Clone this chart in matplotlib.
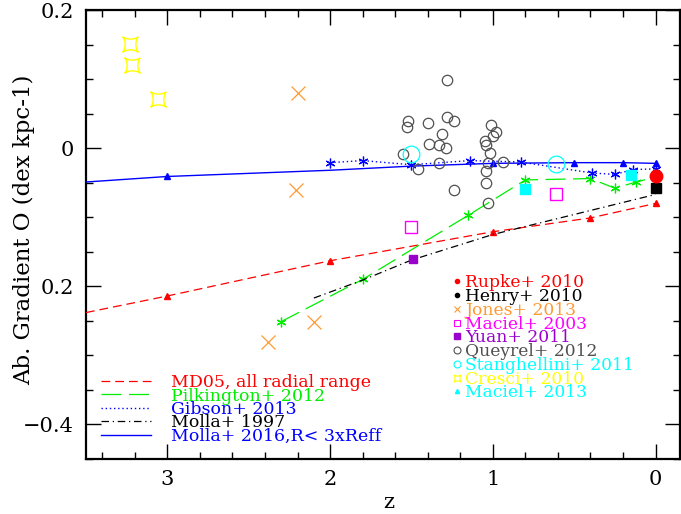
import matplotlib
matplotlib.use("Agg")
import matplotlib.pyplot as plt
from matplotlib.path import Path
from matplotlib.lines import Line2D
from matplotlib.ticker import MultipleLocator, FixedLocator, FixedFormatter
import numpy as np

plt.rcParams['font.family'] = ['DejaVu Serif']

# ---- model lines ----
z_md05 = [3.5, 3.0, 2.0, 1.0, 0.4, 0.0]
g_md05 = [-0.238, -0.214, -0.163, -0.121, -0.101, -0.080]

z_pilk = [2.3, 1.8, 1.15, 0.8, 0.4, 0.25, 0.12, 0.0]
g_pilk = [-0.251, -0.190, -0.097, -0.046, -0.044, -0.058, -0.049, -0.042]

z_gib = [2.0, 1.8, 1.5, 1.14, 0.83, 0.39, 0.25, 0.14, 0.0]
g_gib = [-0.021, -0.018, -0.024, -0.018, -0.020, -0.036, -0.038, -0.031, -0.030]

z_m97 = [2.1, 1.8, 1.5, 1.0, 0.0]
g_m97 = [-0.217, -0.191, -0.162, -0.125, -0.067]

z_m16 = [3.5, 3.0, 2.0, 1.5, 1.0, 0.5, 0.2, 0.0]
g_m16 = [-0.049, -0.041, -0.032, -0.026, -0.022, -0.021, -0.021, -0.022]

# ---- observations ----
z_rupke = [0.0]; g_rupke = [-0.040]
z_henry = [0.0]; g_henry = [-0.058]
z_jones = [2.2, 2.21, 2.1, 2.38]; g_jones = [0.080, -0.061, -0.251, -0.281]
z_mac03 = [1.5, 0.61]; g_mac03 = [-0.114, -0.067]
z_yuan = [1.49]; g_yuan = [-0.160]
z_quey = [1.28, 1.52, 1.53, 1.40, 1.28, 1.24, 1.31, 1.39, 1.33, 1.29, 1.55, 1.46, 1.33,
          1.01, 0.98, 1.00, 1.05, 1.04, 1.02, 1.03, 0.94, 1.04, 1.04, 1.24, 1.03]
g_quey = [0.098, 0.040, 0.030, 0.037, 0.045, 0.040, 0.021, 0.006, 0.004, 0.000, -0.009, -0.030, -0.022,
          0.034, 0.023, 0.018, 0.010, 0.004, -0.007, -0.021, -0.020, -0.033, -0.051, -0.061, -0.079]
z_stan = [1.5, 0.61]; g_stan = [-0.008, -0.023]
z_cresci = [3.23, 3.22, 3.06]; g_cresci = [0.151, 0.121, 0.071]
z_mac13 = [0.8, 0.15]; g_mac13 = [-0.059, -0.039]

line_labels = ["MD05, all radial range", "Pilkington+ 2012", "Gibson+ 2013",
               "Molla+ 1997", "Molla+ 2016,R< 3xReff"]
obs_labels = ["Rupke+ 2010", "Henry+ 2010", "Jones+ 2013", "Maciel+ 2003", "Yuan+ 2011",
              "Queyrel+ 2012", "Stanghellini+ 2011", "Cresci+ 2010", "Maciel+ 2013"]

RED = '#ff0000'; GREEN = '#00ee00'; BLUE = '#0000ff'; BLACK = '#000000'
ORANGE = '#ff9933'; MAG = '#ff00ff'; PURP = '#9900cc'; GRAY = '#505050'
CYAN = '#00ffff'; YEL = '#ffff00'

# concave 4-point star (points on diagonals)
t = np.linspace(0, 2 * np.pi, 81)
sx = np.sign(np.cos(t)) * np.abs(np.cos(t)) ** 3
sy = np.sign(np.sin(t)) * np.abs(np.sin(t)) ** 3
rot = np.pi / 4
vx = sx * np.cos(rot) - sy * np.sin(rot)
vy = sx * np.sin(rot) + sy * np.cos(rot)
star4 = Path(np.column_stack([vx, vy]))
aster = (6, 2, 0)

fig = plt.figure(figsize=(6.81, 5.14), dpi=100)
ax = fig.add_axes([86 / 681, 55 / 514, 594 / 681, 449 / 514])

ax.plot(z_md05, g_md05, color=RED, lw=0.9, dashes=(7, 4), marker='^', ms=4,
        markevery=[1, 2, 3, 4, 5], zorder=3)
ax.plot(z_pilk, g_pilk, color=GREEN, lw=0.9, dashes=(16, 6), marker=aster, ms=7,
        mew=0.9, markevery=list(range(7)), zorder=3)
ax.plot(z_gib, g_gib, color=BLUE, lw=1.0, dashes=(1, 2), marker=aster, ms=7, mew=0.9, zorder=3)
ax.plot(z_m97, g_m97, color=BLACK, lw=0.9, dashes=(6, 3, 1, 3), zorder=3)
ax.plot(z_m16, g_m16, color=BLUE, lw=1.0, marker='^', ms=4.5,
        markevery=[1, 4, 5, 6, 7], zorder=3)

ax.plot(z_quey, g_quey, ls='none', marker='o', ms=7.5, mfc='none', mec=GRAY, mew=0.9, zorder=4)
ax.plot(z_stan, g_stan, ls='none', marker='o', ms=12, mfc='none', mec=CYAN, mew=0.9, zorder=4)
ax.plot(z_jones, g_jones, ls='none', marker='x', ms=10.5, mec=ORANGE, mew=0.9, zorder=4)
ax.plot(z_mac03, g_mac03, ls='none', marker='s', ms=9, mfc='none', mec=MAG, mew=1.0, zorder=4)
ax.plot(z_yuan, g_yuan, ls='none', marker='s', ms=6, color=PURP, zorder=4)
ax.plot(z_cresci, g_cresci, ls='none', marker=star4, ms=11, mfc='none', mec=YEL, mew=1.0, zorder=4)
ax.plot(z_mac13, g_mac13, ls='none', marker='s', ms=6.5, color=CYAN, zorder=4)
ax.plot(z_henry, g_henry, ls='none', marker='s', ms=6.5, color=BLACK, zorder=5)
ax.plot(z_rupke, g_rupke, ls='none', marker='o', ms=9, color=RED, zorder=6)

ax.set_xlim(3.5, -0.15)
ax.set_ylim(-0.45, 0.2)
ax.xaxis.set_major_locator(FixedLocator([3, 2, 1, 0]))
ax.xaxis.set_major_formatter(FixedFormatter(['3', '2', '1', '0']))
ax.xaxis.set_minor_locator(MultipleLocator(0.2))
ax.yaxis.set_major_locator(FixedLocator([0.2, 0.0, -0.2, -0.4]))
ax.yaxis.set_major_formatter(FixedFormatter(['0.2', '0', '0.2', '\u22120.4']))
ax.yaxis.set_minor_locator(MultipleLocator(0.05))
ax.tick_params(which='both', direction='in', top=True, right=True, width=1.0, colors='black')
ax.tick_params(which='major', length=11, labelsize=15)
ax.tick_params(which='minor', length=5)
ax.tick_params(axis='y', which='major', pad=9)
ax.tick_params(axis='x', which='major', pad=8)
for s in ax.spines.values():
    s.set_linewidth(1.6)

ax.set_xlabel('z', fontsize=15)
ax.xaxis.set_label_coords(0.51, -0.075)
ax.set_ylabel('Ab. Gradient O (dex kpc-1)', fontsize=16.5)
ax.yaxis.set_label_coords(-0.085, 0.51)

# line legend
lcol = [RED, GREEN, BLUE, BLACK, BLUE]
lhandles = [Line2D([], [], color=RED, lw=0.9, dashes=(7, 4)),
            Line2D([], [], color=GREEN, lw=0.9, dashes=(16, 6)),
            Line2D([], [], color=BLUE, lw=1.0, dashes=(1, 2)),
            Line2D([], [], color=BLACK, lw=0.9, dashes=(6, 3, 1, 3)),
            Line2D([], [], color=BLUE, lw=1.0)]
leg1 = ax.legend(lhandles, line_labels, loc='lower left', bbox_to_anchor=(0.005, 0.005),
                 frameon=False, fontsize=12.5, handlelength=2.9, handletextpad=1.15,
                 labelspacing=-0.21, labelcolor=lcol, borderpad=0.2)
ax.add_artist(leg1)

ocol = [RED, BLACK, ORANGE, MAG, PURP, GRAY, CYAN, YEL, CYAN]
ohandles = [Line2D([], [], ls='none', marker='o', ms=3, color=RED),
            Line2D([], [], ls='none', marker='o', ms=3, color=BLACK),
            Line2D([], [], ls='none', marker='x', ms=4, mec=ORANGE, mew=0.8),
            Line2D([], [], ls='none', marker='s', ms=4, mfc='none', mec=MAG, mew=0.8),
            Line2D([], [], ls='none', marker='s', ms=4, color=PURP),
            Line2D([], [], ls='none', marker='o', ms=5, mfc='none', mec=GRAY, mew=0.8),
            Line2D([], [], ls='none', marker='o', ms=5, mfc='none', mec=CYAN, mew=0.8),
            Line2D([], [], ls='none', marker=star4, ms=5, mfc='none', mec=YEL, mew=0.8),
            Line2D([], [], ls='none', marker='^', ms=3, color=CYAN)]
leg2 = ax.legend(ohandles, obs_labels, loc='upper left', bbox_to_anchor=(0.598, 0.438),
                 frameon=False, fontsize=12.3, handlelength=0.5, handletextpad=0.2,
                 labelspacing=-0.19, labelcolor=ocol, borderpad=0.2)

fig.savefig('out.png', dpi=100)
